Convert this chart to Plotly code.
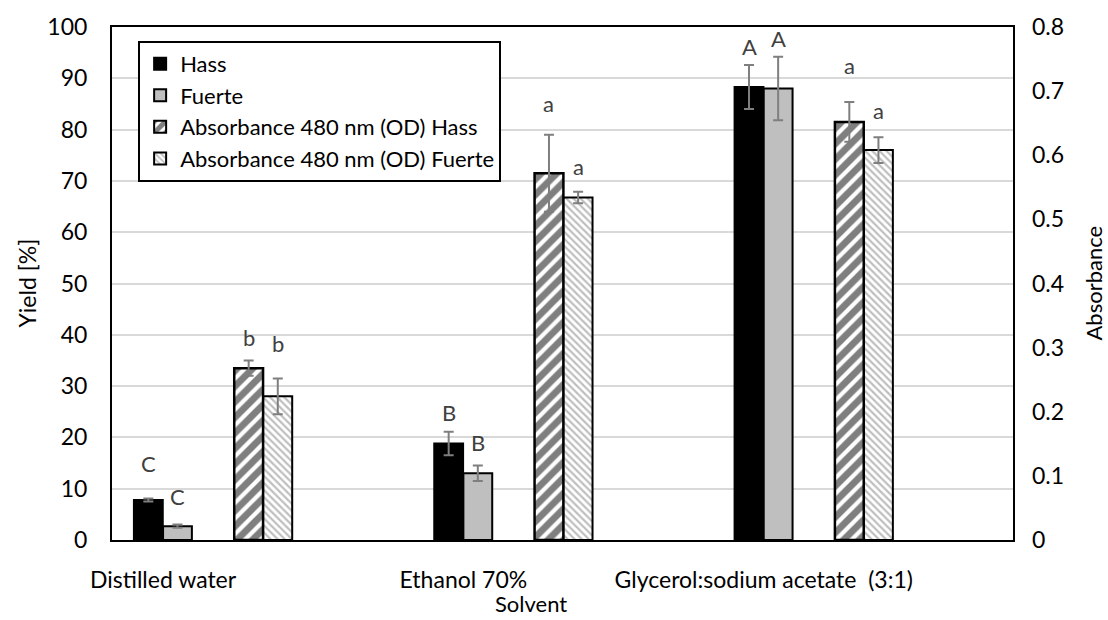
import plotly.graph_objects as go

# ---- data ----
solvents = ["Distilled water", "Ethanol 70%", "Glycerol:sodium acetate  (3:1)"]
yield_hass = [7.8, 18.8, 88.3]
yield_hass_err = [0.3, 2.3, 4.3]
yield_fuerte = [2.7, 13.0, 88.0]
yield_fuerte_err = [0.3, 1.5, 6.2]
abs_hass = [0.268, 0.572, 0.652]
abs_hass_err = [0.012, 0.060, 0.031]
abs_fuerte = [0.224, 0.534, 0.608]
abs_fuerte_err = [0.028, 0.009, 0.020]
letters_yield_hass = ["C", "B", "A"]
letters_yield_fuerte = ["C", "B", "A"]
letters_abs_hass = ["b", "a", "a"]
letters_abs_fuerte = ["b", "a", "a"]

FONT = "Lato"
BW = 0.096
err_style = dict(type="data", color="#7f7f7f", thickness=2, width=5, visible=True)

fig = go.Figure()
fig.add_trace(go.Bar(
    name="Hass", x=solvents, y=yield_hass, width=BW, offset=-0.097,
    marker=dict(color="black", line=dict(color="black", width=2)),
    error_y=dict(array=yield_hass_err, **err_style)))
fig.add_trace(go.Bar(
    name="Fuerte", x=solvents, y=yield_fuerte, width=BW, offset=0.0,
    marker=dict(color="#bfbfbf", line=dict(color="black", width=2)),
    error_y=dict(array=yield_fuerte_err, **err_style)))
fig.add_trace(go.Bar(
    name="Absorbance 480 nm (OD) Hass", x=solvents, y=abs_hass, width=BW, offset=0.237,
    yaxis="y2",
    marker=dict(color="white", line=dict(color="black", width=2.5),
                pattern=dict(shape="/", fgcolor="black", bgcolor="white", size=11, solidity=0.62)),
    error_y=dict(array=abs_hass_err, **err_style)))
fig.add_trace(go.Bar(
    name="Absorbance 480 nm (OD) Fuerte", x=solvents, y=abs_fuerte, width=BW, offset=0.334,
    yaxis="y2",
    marker=dict(color="white", line=dict(color="black", width=2),
                pattern=dict(shape="\\", fgcolor="#7f7f7f", bgcolor="white", size=5, solidity=0.45)),
    error_y=dict(array=abs_fuerte_err, **err_style)))

# significance letters (pixel gaps above the error bar tops)
ann = []
groups = [
    (letters_yield_hass, yield_hass, yield_hass_err, -0.097, "y", [23, 8, 7]),
    (letters_yield_fuerte, yield_fuerte, yield_fuerte_err, 0.0, "y", [17, 12, 7]),
    (letters_abs_hass, abs_hass, abs_hass_err, 0.237, "y2", [11, 20, 25]),
    (letters_abs_fuerte, abs_fuerte, abs_fuerte_err, 0.334, "y2", [23, 14, 15]),
]
for letters, vals, errs, off, yref, gaps in groups:
    for i, (lt, v, e, g) in enumerate(zip(letters, vals, errs, gaps)):
        ann.append(dict(x=i + off + BW / 2, y=v + e, xref="x", yref=yref, text=lt,
                        showarrow=False, yanchor="bottom", yshift=g - 4,
                        font=dict(family=FONT, size=22, color="#404040")))

ann += [
    dict(x=(26 - 112) / 901, y=0.5, xref="paper", yref="paper", text="Yield [%]", textangle=-90,
         showarrow=False, xanchor="center", yanchor="middle",
         font=dict(family=FONT, size=23, color="black")),
    dict(x=(1093 - 112) / 901, y=0.5, xref="paper", yref="paper", text="Absorbance", textangle=-90,
         showarrow=False, xanchor="center", yanchor="middle",
         font=dict(family=FONT, size=22, color="black")),
    dict(x=(531 - 112) / 901, y=(540 - 604) / 517, xref="paper", yref="paper", text="Solvent",
         showarrow=False, xanchor="center", yanchor="middle",
         font=dict(family=FONT, size=22, color="black")),
]

fig.update_layout(
    width=1108, height=620,
    margin=dict(l=112, r=95, t=23, b=80),
    paper_bgcolor="white", plot_bgcolor="white",
    barmode="overlay",
    font=dict(family=FONT, size=23, color="black"),
    showlegend=True,
    legend=dict(x=0.029, y=0.973, xanchor="left", yanchor="top",
                bordercolor="black", borderwidth=2, bgcolor="white",
                font=dict(family=FONT, size=22, color="black"),
                tracegroupgap=0, itemsizing="constant"),
    annotations=ann,
    xaxis=dict(type="category", range=[-0.17, 2.83], showline=True, linecolor="black",
               linewidth=2, mirror=True, showgrid=False, ticks="", ticklabelstandoff=18,
               tickfont=dict(family=FONT, size=23, color="black")),
    yaxis=dict(range=[0, 100], dtick=10, showline=True, linecolor="black", linewidth=2,
               mirror=True, showgrid=True, gridcolor="#d9d9d9", gridwidth=2, zeroline=False,
               ticks="", ticklabelstandoff=18, tickfont=dict(family=FONT, size=23, color="black")),
    yaxis2=dict(range=[0, 0.8], dtick=0.1, overlaying="y", side="right", showgrid=False,
                zeroline=False, showline=False, ticks="", ticklabelstandoff=18,
                tickformat=".1~f",
                tickfont=dict(family=FONT, size=23, color="black")),
)

fig.write_html("out.html")
